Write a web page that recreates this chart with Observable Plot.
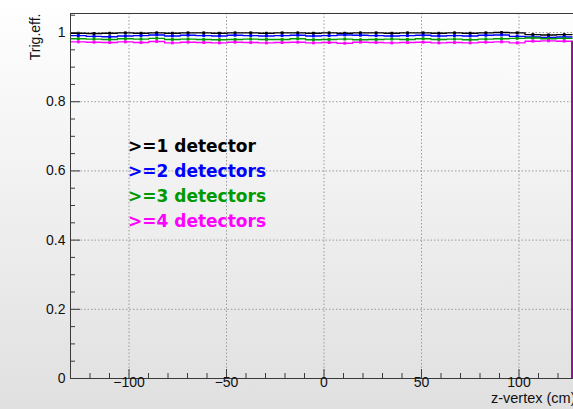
<!DOCTYPE html>
<html><head><meta charset="utf-8">
<script src="https://cdn.jsdelivr.net/npm/d3@7"></script>
<script src="https://cdn.jsdelivr.net/npm/@observablehq/plot@0.6"></script>
<style>
html,body{margin:0;padding:0;overflow:hidden;width:573px;height:409px;}
body{background:linear-gradient(#ffffff,#e0e0e0);}
#chart{width:577px;height:409px;}
svg{display:block;max-width:none !important;}
</style></head><body><div id="chart"></div>
<script>
// histogram binning (z-vertex, cm)
const zLow = -130, zHigh = 127.2, nBins = 32;

const seriesNames = [">=1 detector", ">=2 detectors", ">=3 detectors", ">=4 detectors"];
const seriesColors = ["#000000", "#0000ff", "#009900", "#ff00ff"];

// trigger efficiency per bin
const eff1 = [0.998,0.997,0.998,0.999,0.998,0.999,0.998,0.999,0.999,0.998,0.999,0.999,0.998,0.999,0.999,0.998,
              0.999,0.998,0.999,0.999,0.998,0.999,0.999,0.998,0.999,0.998,0.999,1.000,0.999,0.994,0.993,0.994];
const eff2 = [0.991,0.989,0.988,0.990,0.991,0.993,0.990,0.992,0.991,0.990,0.992,0.991,0.990,0.991,0.992,0.990,
              0.991,0.993,0.992,0.991,0.990,0.991,0.992,0.990,0.991,0.990,0.992,0.993,0.989,0.987,0.986,0.987];
const eff3 = [0.982,0.981,0.980,0.982,0.981,0.983,0.980,0.981,0.980,0.979,0.980,0.981,0.980,0.980,0.982,0.979,
              0.980,0.981,0.979,0.980,0.981,0.980,0.982,0.980,0.981,0.979,0.981,0.982,0.983,0.984,0.982,0.983];
const eff4 = [0.973,0.972,0.971,0.973,0.971,0.974,0.970,0.972,0.971,0.970,0.972,0.971,0.970,0.971,0.972,0.970,
              0.971,0.969,0.972,0.971,0.970,0.971,0.972,0.970,0.971,0.970,0.972,0.973,0.970,0.975,0.976,0.975];
// typical statistical error per series
const effErr = [0.002, 0.003, 0.003, 0.003];

// axis ticks
const xMajor = [-100, -50, 0, 50, 100];
const xMinor = [-120,-110,-90,-80,-70,-60,-40,-30,-20,-10,10,20,30,40,60,70,80,90,110,120];
const yMajor = [0, 0.2, 0.4, 0.6, 0.8, 1];
const yMinor = [0.05,0.1,0.15,0.25,0.3,0.35,0.45,0.5,0.55,0.65,0.7,0.75,0.85,0.9,0.95,1.05];
const yGrid = [0.2, 0.4, 0.6, 0.8, 1];

const xLabel = "z-vertex (cm)";
const yLabel = "Trig.eff.";

const effs = [eff1, eff2, eff3, eff4];
const bw = (zHigh - zLow) / nBins;

const W = 577, H = 409, mL = 70, mR = 0, mT = 13, mB = 31;
const pw = W - mL - mR, ph = H - mT - mB;
const axisColor = "#3a3a3a";
const gridColor = "#9a9a9a";

const marks = [];
// grid
marks.push(Plot.ruleX(xMajor, {stroke: gridColor, strokeDasharray: "1.5,2"}));
marks.push(Plot.ruleY(yGrid, {stroke: gridColor, strokeDasharray: "1.5,2"}));

effs.forEach((arr, s) => {
  const steps = arr.map((v, i) => ({x: zLow + i * bw, y: v}));
  steps.push({x: zHigh, y: arr[arr.length - 1]});
  const pts = arr.map((v, i) => ({x: zLow + (i + 0.5) * bw, y: v, e: effErr[s]}));
  marks.push(Plot.line(steps, {x: "x", y: "y", curve: "step-after", stroke: seriesColors[s], strokeWidth: 1.4}));
  marks.push(Plot.ruleX(pts, {x: "x", y1: d => d.y - d.e, y2: d => d.y + d.e, stroke: seriesColors[s], strokeWidth: 1.2}));
  marks.push(Plot.dot(pts, {x: "x", y: "y", symbol: "square", r: 1.6, fill: seriesColors[s], stroke: null}));
});
// closing edge of the histograms
marks.push(Plot.ruleX([zHigh], {y1: 0, y2: eff4[eff4.length - 1], stroke: "#8a148a", strokeWidth: 2}));

// frame & ticks
marks.push(Plot.frame({stroke: axisColor}));
marks.push(Plot.ruleY(yMajor, {insetRight: pw - 10, stroke: axisColor}));
marks.push(Plot.ruleY(yMinor, {insetRight: pw - 5, stroke: axisColor}));
marks.push(Plot.ruleX(xMajor, {insetTop: ph - 9, stroke: axisColor}));
marks.push(Plot.ruleX(xMinor, {insetTop: ph - 5, stroke: axisColor}));

// tick labels
marks.push(Plot.text(yMajor, {y: d => d, frameAnchor: "left", dx: -5, textAnchor: "end", text: d => String(d), fill: "#111", fontSize: 14}));
marks.push(Plot.text(xMajor, {x: d => d, frameAnchor: "bottom", dy: 8, text: d => (d < 0 ? "\u2212" + (-d) : String(d)), fill: "#111", fontSize: 14}));

// axis titles
marks.push(Plot.text([yLabel], {frameAnchor: "top-left", dx: -40, dy: 0, rotate: -90, textAnchor: "end", text: d => d, fill: "#111", fontSize: 14}));
marks.push(Plot.text([xLabel], {frameAnchor: "bottom-right", dx: -2, dy: 24, textAnchor: "end", text: d => d, fill: "#111", fontSize: 14.5}));

// legend labels (TLatex style)
marks.push(Plot.text(seriesNames, {
  x: -100.5, y: (d, i) => 0.654 - i * 0.0725, text: d => d, textAnchor: "start", lineAnchor: "bottom",
  fill: (d, i) => seriesColors[i], fontSize: 17, fontWeight: "bold", fontFamily: "DejaVu Sans"
}));

const chart = Plot.plot({
  width: W, height: H,
  marginLeft: mL, marginRight: mR, marginTop: mT, marginBottom: mB,
  style: {background: "transparent", fontFamily: "Liberation Sans, Arial, sans-serif", fontSize: "14px", overflow: "visible"},
  x: {domain: [-130, 130], axis: null},
  y: {domain: [0, 1.055], axis: null},
  color: {type: "identity"},
  marks
});
document.getElementById("chart").appendChild(chart);
</script>
</body></html>
